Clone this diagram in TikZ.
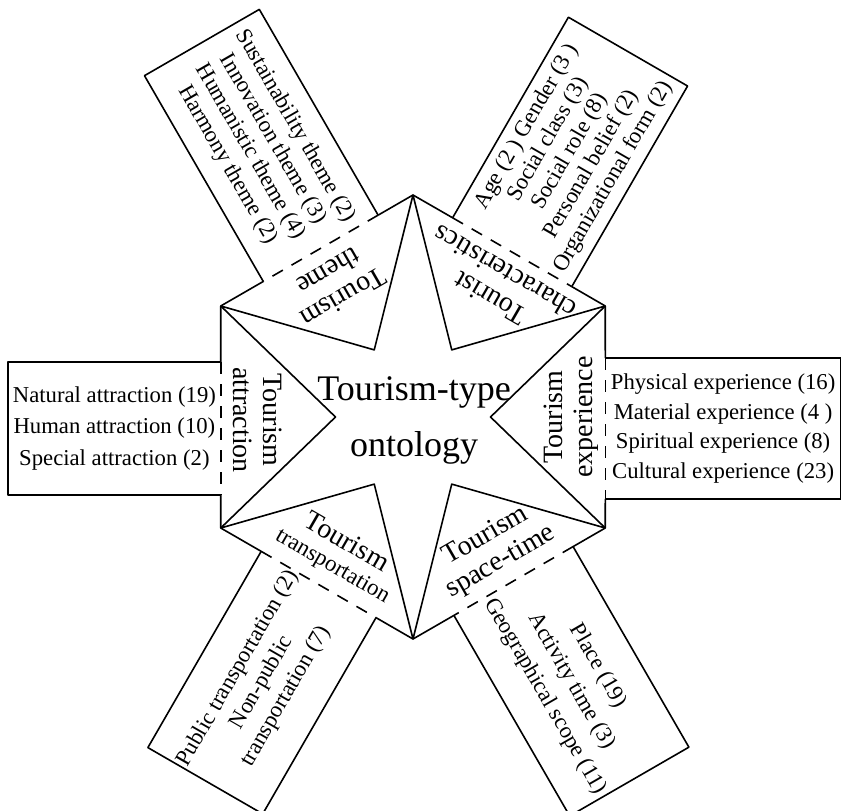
\documentclass[tikz,border=0pt]{standalone}
\usepackage{fontspec}
\setmainfont{Liberation Serif}
\begin{document}
\begin{tikzpicture}[x=1pt,y=1pt,line width=1.6pt,line join=round,
  boxtext/.style={inner sep=0pt,align=center},
  itemfont/.style={font=\fontsize{22.7}{#1}\selectfont},
  lab/.style={inner sep=0pt,align=center,font=\fontsize{28}{30}\selectfont},
  dashseg/.style={dash pattern=on 12pt off 10pt}]
\useasboundingbox (0,0) rectangle (841,-811);
\clip (0,0) rectangle (841,-811);
\begin{scope}[shift={(413,-417)}]
% hexagon (outer) vertices
\coordinate (O1) at (90:222);
\coordinate (O2) at (150:222);
\coordinate (O3) at (210:222);
\coordinate (O4) at (270:222);
\coordinate (O5) at (330:222);
\coordinate (O6) at (30:222);
% inner vertices of the star
\coordinate (I0) at (0:77.5);
\coordinate (I60) at (60:77.5);
\coordinate (I120) at (120:77.5);
\coordinate (I180) at (180:77.5);
\coordinate (I240) at (240:77.5);
\coordinate (I300) at (300:77.5);
% star
\draw (O1) -- (I60) -- (O6) -- (I0) -- (O5) -- (I300) -- (O4) -- (I240) -- (O3) -- (I180) -- (O2) -- (I120) -- cycle;
% boxes
\node[boxtext,itemfont=31.5,anchor=east,minimum width=211,minimum height=131] (bA) at (-192.3,-11.5)
  {Natural attraction (19)\\Human attraction (10)\\Special attraction (2)};
\node[boxtext,itemfont=29.7,anchor=west,minimum width=234,minimum height=139] (bE) at (192.3,-11.5)
  {Physical experience (16)\\Material experience (4 )\\Spiritual experience (8)\\Cultural experience (23)};
\node[boxtext,itemfont=26,rotate=-60,anchor=east,minimum width=236,minimum height=131] (bT) at (-92.3,168.7)
  {Sustainability theme (2)\\Innovation theme (3)\\Humanistic theme (4)\\Harmony theme (2)};
\node[boxtext,itemfont=25,rotate=60,anchor=west,minimum width=230,minimum height=136] (bC) at (99.2,164.8)
  {Age (2 ) Gender (3 )\\Social class (3)\\Social role (8)\\Personal belief (2)\\Organizational form (2)};
\node[boxtext,itemfont=27.7,rotate=60,anchor=east,minimum width=225,minimum height=131] (bP) at (-94.4,-167.5)
  {Public transportation (2)\\Non-public\\transportation (7)};
\node[boxtext,itemfont=30.5,rotate=-60,anchor=west,minimum width=230,minimum height=136] (bS) at (100.5,-164)
  {Place (19)\\Activity time (3)\\Geographical scope (11)};
% box outlines
\draw (bA.north east) -- (bA.north west) -- (bA.south west) -- (bA.south east);
\draw (bE.north west) -- (bE.north east) -- (bE.south east) -- (bE.south west);
\draw (bT.north east) -- (bT.north west) -- (bT.south west) -- (bT.south east);
\draw (bC.north west) -- (bC.north east) -- (bC.south east) -- (bC.south west);
\draw (bP.north east) -- (bP.north west) -- (bP.south west) -- (bP.south east);
\draw (bS.north west) -- (bS.north east) -- (bS.south east) -- (bS.south west);
% hexagon edges: solid parts and dashed parts along the boxes
\draw (O2) -- (bA.north east); \draw[dashseg] (bA.north east) -- (bA.south east); \draw (bA.south east) -- (O3);
\draw (O6) -- (bE.north west); \draw[dashseg] (bE.north west) -- (bE.south west); \draw (bE.south west) -- (O5);
\draw (O1) -- (bT.north east); \draw[dashseg] (bT.north east) -- (bT.south east); \draw (bT.south east) -- (O2);
\draw (O1) -- (bC.north west); \draw[dashseg] (bC.north west) -- (bC.south west); \draw (bC.south west) -- (O6);
\draw (O3) -- (bP.north east); \draw[dashseg] (bP.north east) -- (bP.south east); \draw (bP.south east) -- (O4);
\draw (O5) -- (bS.north west); \draw[dashseg] (bS.north west) -- (bS.south west); \draw (bS.south west) -- (O4);
% triangle labels
\node[lab,rotate=-90] (tA) at (-155.5,-3) {Tourism\\attraction};
\node[lab,rotate=90] (tE) at (158.5,0) {Tourism\\experience};
\node[lab,rotate=210] (tT) at (-77,132) {Tourism\\theme};
\node[lab,rotate=150] (tC) at (84.5,131.8) {Tourist\\characteristics};
\node[lab,rotate=-30] (tP) at (-73.4,-137) {Tourism\\[-4pt]{\fontsize{23}{26}\selectfont transportation}};
\node[lab,rotate=30] (tS) at (80.5,-132) {Tourism\\space-time};
% centre
\node[font=\fontsize{36}{56}\selectfont,align=center,inner sep=0pt] (ctr) at (1,-3) {Tourism-type\\ontology};
\end{scope}
\end{tikzpicture}
\end{document}
